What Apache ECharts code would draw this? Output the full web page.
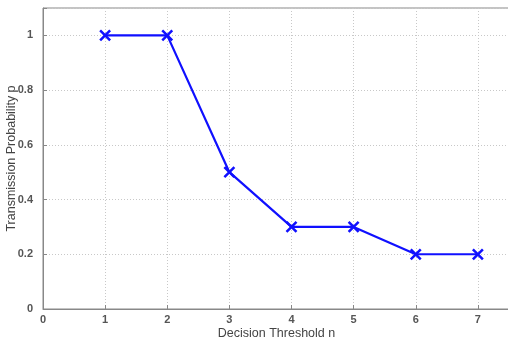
<!DOCTYPE html>
<html>
<head>
<meta charset="utf-8">
<script src="https://cdn.jsdelivr.net/npm/echarts@6/dist/echarts.min.js"></script>
<style>
html,body{margin:0;padding:0;background:#fff;}
#chart{width:508px;height:341px;}
</style>
</head>
<body>
<div id="chart"></div>
<script>
// decision threshold n vs transmission probability p
var thresholds = [1, 2, 3, 4, 5, 6, 7];
var probs = [1, 1, 0.5, 0.3, 0.3, 0.2, 0.2];

var chart = echarts.init(document.getElementById("chart"));

var pts = [];
for (var i = 0; i < thresholds.length; i++) {
	pts.push([thresholds[i], probs[i]]);
}

var labelStyle = {color: '#555', fontFamily: 'Liberation Sans, Arial', fontSize: 11, fontWeight: 'bold'};
var gridLine = {show: true, lineStyle: {color: '#c8c8c8', type: [1, 2], width: 1}};

var option = {
	animation: false,
	grid: {left: 43, top: 8, width: 497, height: 301, outerBoundsMode: 'none', containLabel: false,
		show: true, borderColor: '#888', borderWidth: 1},
	xAxis: {
		type: 'value', min: 0, max: 8, interval: 1,
		name: 'Decision Threshold n', nameLocation: 'middle', nameGap: 18, nameMoveOverlap: false,
		nameTextStyle: {color: '#444', fontFamily: 'Liberation Sans, Arial', fontSize: 12.5, padding: [0, 0, 0, -30]},
		axisLine: {lineStyle: {color: '#888'}},
		axisTick: {inside: true, length: 4, lineStyle: {color: '#888'}},
		axisLabel: Object.assign({margin: 5, formatter: function(v){ return v < 8 ? v : ''; }}, labelStyle),
		splitLine: gridLine
	},
	yAxis: {
		type: 'value', min: 0, max: 1.1, interval: 0.2,
		name: 'Transmission Probability p', nameLocation: 'middle', nameGap: 25, nameMoveOverlap: false,
		nameTextStyle: {color: '#444', fontFamily: 'Liberation Sans, Arial', fontSize: 12.5},
		axisLine: {lineStyle: {color: '#888'}},
		axisTick: {inside: true, length: 4, lineStyle: {color: '#888'}},
		axisLabel: Object.assign({margin: 10, formatter: function(v){ return v > 1.05 ? '' : String(+v.toFixed(1)); }}, labelStyle),
		splitLine: gridLine
	},
	series: [{
		type: 'line',
		data: pts,
		symbol: 'path://M0,0 L10,10 M10,0 L0,10',
		symbolSize: 10,
		showAllSymbol: true,
		lineStyle: {color: '#1010ff', width: 2.2},
		itemStyle: {color: '#1010ff', borderColor: '#1010ff', borderWidth: 2.5}
	}]
};
chart.setOption(option);
</script>
</body>
</html>
